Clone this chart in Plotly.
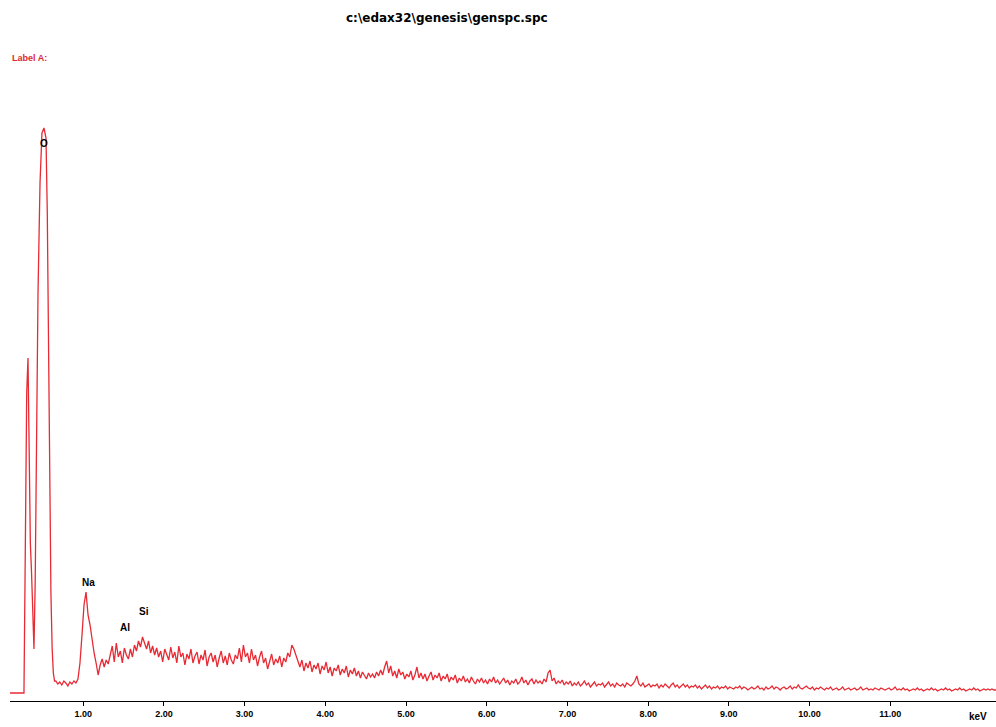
import numpy as np
import plotly.graph_objects as go

# Low-energy peak region (keV, counts)
peak_kev = [0.093, 0.266, 0.280, 0.300, 0.316, 0.330, 0.345, 0.360, 0.375, 0.390,
            0.405, 0.420, 0.440, 0.465, 0.489, 0.514, 0.539, 0.555, 0.570, 0.585,
            0.600, 0.615, 0.630, 0.645]
peak_counts = [0, 0, 120, 300, 335, 230, 150, 120, 90, 44,
               110, 230, 400, 510, 560, 565, 555, 480, 330, 200,
               100, 45, 20, 12]

# Continuum channels: start energy and channel width (keV)
chan_start = 0.66
chan_width = 0.025
chan_counts = [
    12, 9, 11, 8, 12, 10, 7, 11, 9, 12,
    10, 14, 30, 58, 88, 101, 78, 68, 52, 40,
    30, 18, 28, 34, 26, 33, 29, 38, 47, 31,
    50, 36, 42, 30, 45, 38, 34, 44, 36, 48,
    42, 52, 46, 56, 50, 44, 52, 40, 47, 38,
    45, 36, 42, 31, 44, 38, 33, 46, 35, 41,
    30, 47, 36, 40, 28, 39, 34, 44, 30, 37,
    41, 29, 38, 33, 43, 27, 36, 40, 31, 38,
    26, 35, 42, 30, 37, 28, 40, 33, 29, 38,
    34, 45, 31, 48, 36, 40, 30, 44, 33, 38,
    27, 36, 42, 30, 35, 24, 33, 39, 28, 34,
    30, 37, 26, 35, 31, 40, 36, 48, 44, 38,
    30, 26, 33, 22, 30, 25, 32, 21, 28, 24,
    30, 19, 27, 23, 31, 20, 26, 17, 25, 22,
    28, 18, 24, 20, 27, 16, 23, 19, 25, 17,
    22, 15, 21, 18, 14, 20, 16, 19, 15, 21,
    17, 23, 18, 26, 32, 20, 27, 17, 22, 15,
    24, 18, 21, 14, 19, 16, 22, 13, 18, 26,
    15, 20, 14, 19, 12, 17, 21, 13, 18, 15,
    20, 12, 17, 14, 19, 11, 16, 13, 18, 10,
    15, 12, 17, 11, 14, 10, 16, 12, 9, 14,
    11, 15, 10, 13, 9, 14, 11, 16, 10, 13,
    9, 12, 15, 10, 13, 8, 12, 10, 14, 9,
    11, 16, 10, 13, 8, 12, 14, 9, 13, 10,
    12, 9, 14, 11, 20, 23, 12, 15, 9, 12,
    10, 13, 8, 11, 9, 12, 7, 10, 8, 11,
    7, 9, 12, 8, 10, 6, 9, 11, 7, 9,
    8, 10, 6, 9, 11, 7, 9, 6, 10, 8,
    7, 9, 6, 10, 8, 7, 9, 12, 17, 9,
    7, 10, 6, 8, 9, 6, 8, 7, 9, 5,
    8, 6, 9, 7, 5, 8, 10, 6, 8, 5,
    7, 9, 6, 8, 5, 7, 6, 8, 5, 7,
    4, 6, 8, 5, 7, 4, 6, 5, 7, 4,
    6, 5, 7, 4, 6, 5, 4, 6, 5, 7,
    4, 6, 5, 3, 5, 6, 4, 5, 7, 4,
    5, 3, 6, 4, 5, 7, 4, 6, 5, 3,
    5, 6, 4, 5, 7, 4, 6, 5, 8, 5,
    4, 6, 7, 5, 4, 6, 3, 5, 4, 6,
    4, 3, 5, 4, 6, 3, 4, 5, 3, 4,
    6, 3, 4, 5, 3, 4, 5, 3, 4, 6,
    3, 4, 5, 3, 4, 3, 5, 4, 3, 5,
    4, 3, 4, 5, 3, 4, 6, 3, 4, 3,
    5, 3, 4, 2, 3, 4, 3, 5, 3, 4,
    2, 3, 4, 3, 5, 3, 4, 2, 3, 4,
    3, 5, 3, 4, 2, 3, 4, 3, 5, 3,
    4, 2, 3, 4, 3, 5, 3, 4, 2, 3,
    4, 3, 4, 3, 4, 3, 3,
]

tick_vals = [1, 2, 3, 4, 5, 6, 7, 8, 9, 10, 11]
tick_text = ["1.00", "2.00", "3.00", "4.00", "5.00", "6.00", "7.00", "8.00", "9.00", "10.00", "11.00"]

element_names = ["O", "Na", "Al", "Si"]
element_kev = [0.514, 1.06, 1.52, 1.754]
element_label_y = [550, 111, 66, 82]

chan_kev = chan_start + chan_width * np.arange(len(chan_counts))
x_all = list(peak_kev) + list(chan_kev)
y_all = list(peak_counts) + list(chan_counts)

fig = go.Figure()
fig.add_trace(go.Scatter(x=x_all, y=y_all, mode="lines",
                         line=dict(color="rgb(232,42,52)", width=1.3),
                         hoverinfo="skip", showlegend=False))

FAM = "Liberation Sans, Arial, sans-serif"
font_b = dict(family=FAM, size=10, color="black", weight="bold")

for name, ex, ey in zip(element_names, element_kev, element_label_y):
    fig.add_annotation(x=ex, y=ey, xref="x", yref="y", text=name, showarrow=False,
                       font=font_b, xanchor="center", yanchor="middle")

fig.add_annotation(x=(447 - 10) / 986, y=(701 - 18) / 601, xref="paper", yref="paper",
                   text="c:\\edax32\\genesis\\genspc.spc", showarrow=False,
                   font=dict(family="DejaVu Sans, sans-serif", size=12, color="black", weight="bold"),
                   xanchor="center", yanchor="middle")
fig.add_annotation(x=0, y=(701 - 58) / 601, xref="paper", yref="paper",
                   text="Label A:", showarrow=False,
                   font=dict(family=FAM, size=9, color="rgb(225,40,50)", weight="bold"),
                   xanchor="left", yanchor="middle")
fig.add_annotation(x=(978 - 10) / 986, y=(701 - 716) / 601, xref="paper", yref="paper",
                   text="keV", showarrow=False,
                   font=dict(family=FAM, size=10, color="black", weight="bold"),
                   xanchor="center", yanchor="middle")

fig.update_layout(
    width=996, height=727,
    margin=dict(l=10, r=0, t=100, b=26),
    paper_bgcolor="white", plot_bgcolor="white",
    xaxis=dict(range=[0.093, 12.31], showgrid=False, zeroline=False,
               showline=True, linecolor="black", linewidth=1,
               ticks="outside", ticklen=4, tickcolor="black",
               tickvals=tick_vals, ticktext=tick_text,
               tickfont=dict(family=FAM, size=9, color="black", weight="bold")),
    yaxis=dict(range=[-8, 593], visible=False, showgrid=False, zeroline=False),
)

fig.write_html("out.html", config={"displayModeBar": False},
               post_script="document.body.style.margin='0';document.body.style.overflow='hidden';")
